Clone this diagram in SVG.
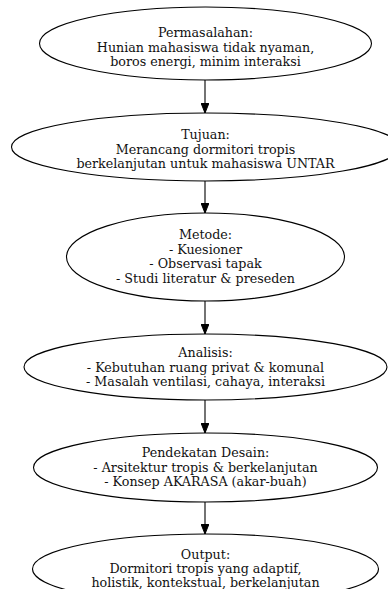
<svg xmlns="http://www.w3.org/2000/svg" width="388" height="589" viewBox="0 0 388 589">
<defs>
<marker id="ah" markerWidth="10" markerHeight="8" refX="10" refY="4" orient="auto" markerUnits="userSpaceOnUse">
<path d="M0,0 L10,4 L0,8 Z" fill="#000" stroke="#000" stroke-width="1"/>
</marker>
<style>
.n ellipse{fill:#fff;stroke:#000;stroke-width:1.1}
.n text{font-family:"DejaVu Serif","Liberation Serif",serif;font-size:12.7px;fill:#111;text-anchor:middle}
.e line{stroke:#000;stroke-width:1.1;marker-end:url(#ah)}
</style>
</defs>
<rect width="388" height="589" fill="#fff"/>
<g class="e" id="edges">
<line x1="205" y1="80" x2="205" y2="113"/>
<line x1="205" y1="181" x2="205" y2="213"/>
<line x1="205" y1="301" x2="205" y2="334"/>
<line x1="205" y1="400" x2="205" y2="433"/>
<line x1="205" y1="502" x2="205" y2="534"/>
</g>
<g class="n" id="permasalahan">
<ellipse cx="205.5" cy="43.5" rx="166" ry="36.5"/>
<text x="205.5" y="37">Permasalahan:</text>
<text x="205.5" y="51.5">Hunian mahasiswa tidak nyaman,</text>
<text x="205.5" y="66">boros energi, minim interaksi</text>
</g>
<g class="n" id="tujuan">
<ellipse cx="205.5" cy="147" rx="194" ry="34"/>
<text x="205.5" y="139">Tujuan:</text>
<text x="205.5" y="153.5">Merancang dormitori tropis</text>
<text x="205.5" y="168">berkelanjutan untuk mahasiswa UNTAR</text>
</g>
<g class="n" id="metode">
<ellipse cx="205.5" cy="257" rx="139" ry="44"/>
<text x="205.5" y="239">Metode:</text>
<text x="205.5" y="253.5">- Kuesioner</text>
<text x="205.5" y="268">- Observasi tapak</text>
<text x="205.5" y="282.5">- Studi literatur &amp; preseden</text>
</g>
<g class="n" id="analisis">
<ellipse cx="205.5" cy="367" rx="181.5" ry="33"/>
<text x="205.5" y="357">Analisis:</text>
<text x="205.5" y="371.5">- Kebutuhan ruang privat &amp; komunal</text>
<text x="205.5" y="386">- Masalah ventilasi, cahaya, interaksi</text>
</g>
<g class="n" id="pendekatan">
<ellipse cx="205.5" cy="467.5" rx="172" ry="34.5"/>
<text x="205.5" y="457">Pendekatan Desain:</text>
<text x="205.5" y="471.5">- Arsitektur tropis &amp; berkelanjutan</text>
<text x="205.5" y="486">- Konsep AKARASA (akar-buah)</text>
</g>
<g class="n" id="output">
<ellipse cx="205.5" cy="569" rx="173" ry="35"/>
<text x="205.5" y="559">Output:</text>
<text x="205.5" y="573">Dormitori tropis yang adaptif,</text>
<text x="205.5" y="587">holistik, kontekstual, berkelanjutan</text>
</g>
</svg>
